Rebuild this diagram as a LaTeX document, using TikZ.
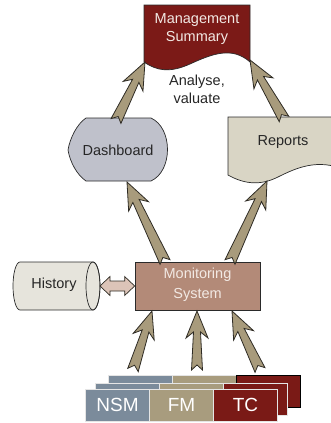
\documentclass[tikz,border=0pt]{standalone}
\usepackage{fontspec}
\setmainfont{Liberation Sans}
\usetikzlibrary{calc}
\definecolor{mgmtred}{HTML}{7B1A17}
\definecolor{dashgray}{HTML}{BFC1CB}
\definecolor{repbeige}{HTML}{D9D5C5}
\definecolor{monrose}{HTML}{B38A78}
\definecolor{montext}{HTML}{F2E9E4}
\definecolor{histfill}{HTML}{E6E4DC}
\definecolor{arrowtan}{HTML}{A89B7C}
\definecolor{arrowline}{HTML}{2E2B24}
\definecolor{dblfill}{HTML}{DCC4B8}
\definecolor{nsmcol}{HTML}{7B8B9B}
\definecolor{fmcol}{HTML}{A89C7E}
\definecolor{tccol}{HTML}{7A1A16}
\definecolor{outline}{HTML}{2A2A2A}
\tikzset{
  shapeline/.style={draw=outline, line width=0.7pt},
  fatarrow/.style={fill=arrowtan, draw=arrowline, line width=0.8pt, line join=miter},
  lbl/.style={font=\fontsize{14.5}{18}\selectfont, align=center, inner sep=0pt, text=black!85},
  srcbox/.style={rectangle, draw=white!80!gray, line width=0.8pt, minimum width=64pt,
    minimum height=32pt, inner sep=0pt, text=white, font=\fontsize{19}{22}\selectfont},
}
\newcommand\fatarrow[2]{%
  \draw[fatarrow] (#2)
    -- ($(#2)!27pt!(#1)!11pt!90:(#1)$)
    -- ($(#2)!21pt!(#1)!3.5pt!90:(#1)$)
    -- ($(#1)!5.5pt!-90:(#2)$)
    -- ($(#1)!5pt!(#2)$)
    -- ($(#1)!5.5pt!90:(#2)$)
    -- ($(#2)!21pt!(#1)!3.5pt!-90:(#1)$)
    -- ($(#2)!27pt!(#1)!11pt!-90:(#1)$)
    -- cycle;}
\begin{document}
\begin{tikzpicture}[x=1pt,y=-1pt]
\useasboundingbox (0,0) rectangle (331,423);
\begin{scope}
\clip (0,0) rectangle (331,423);
% Management Summary
\draw[shapeline, fill=mgmtred] (144,5) -- (250,5) -- (250,62)
  .. controls (232,46) and (212,54) .. (190,64)
  .. controls (170,73) and (157,71) .. (144,62) -- cycle;
\node[lbl, text=montext] (mgmt) at (197,29) {Management\\Summary};
\node[lbl] (analyse) at (197,89) {Analyse,\\valuate};
% Dashboard
\draw[shapeline, fill=dashgray] (86,118) -- (151,118)
  .. controls (173,128) and (173,171) .. (151,181) -- (86,181)
  .. controls (77,175) and (70,162) .. (68,150)
  .. controls (70,138) and (77,124) .. (86,118) -- cycle;
\node[lbl] (dash) at (118,150) {Dashboard};
% Reports
\draw[shapeline, fill=repbeige] (228,117) -- (345,117) -- (345,170)
  .. controls (318,158) and (296,168) .. (278,177)
  .. controls (260,186) and (244,184) .. (228,175) -- cycle;
\node[lbl] (rep) at (283,142) {Reports};
% History
\draw[shapeline, fill=histfill] (20,262) -- (93,262) arc(-90:90:7 and 24)
  -- (20,310) arc(90:270:7 and 24) -- cycle;
\draw[shapeline] (93,286) ellipse (7 and 24);
\node[lbl] (hist) at (54,285) {History};
\coordinate (hist-e) at (100,286);
% Monitoring
\node[shapeline, fill=monrose, rectangle, minimum width=125pt, minimum height=48pt,
  inner sep=0pt] (mon) at (197.5,286) {};
\node[lbl, text=montext, font=\fontsize{14.5}{20}\selectfont] (montxt) at (197.5,285) {Monitoring\\System};
% double arrow
\draw[fill=dblfill, draw=arrowline, line width=0.7pt] (hist-e)
  -- ($(hist-e)+(10,-9.5)$) -- ($(hist-e)+(10,-5)$) -- ($(mon.west)+(-10,-5)$)
  -- ($(mon.west)+(-10,-9.5)$) -- (mon.west) -- ($(mon.west)+(-10,9.5)$)
  -- ($(mon.west)+(-10,5)$) -- ($(hist-e)+(10,5)$) -- ($(hist-e)+(10,9.5)$) -- cycle;
% source stacks: back row
\node[srcbox, fill=nsmcol] (nsmB) at (140,391) {};
\node[srcbox, fill=fmcol] (fmB) at (204,391) {};
\node[srcbox, fill=tccol, draw=black] (tcB) at (268,391) {};
% middle row
\node[srcbox, fill=nsmcol] (nsmM) at (127.5,399) {};
\node[srcbox, fill=fmcol] (fmM) at (191.5,399) {};
\node[srcbox, fill=tccol] (tcM) at (255.5,399) {};
% front row
\node[srcbox, fill=nsmcol] (nsm) at (117.5,405) {NSM};
\node[srcbox, fill=fmcol] (fm) at (181.5,405) {FM};
\node[srcbox, fill=tccol] (tc) at (245.5,405) {TC};
% arrow end points
\coordinate (dash-top) at (116,121);
\coordinate (mgmt-l) at (145,62);
\coordinate (rep-top) at (284,119);
\coordinate (mgmt-r) at (250,60);
\coordinate (mon-tl) at (165,262);
\coordinate (dash-bot) at (127,182);
\coordinate (mon-tr) at (230,262);
\coordinate (rep-bot) at (267,181);
\coordinate (nsm-top) at (133,370);
\coordinate (mon-bl) at (152,311);
\coordinate (fm-top) at (197,370);
\coordinate (mon-bm) at (197,311);
\coordinate (tc-top) at (260,370);
\coordinate (mon-br) at (232,311);
\fatarrow{dash-top}{mgmt-l}
\fatarrow{rep-top}{mgmt-r}
\fatarrow{mon-tl}{dash-bot}
\fatarrow{mon-tr}{rep-bot}
\fatarrow{nsm-top}{mon-bl}
\fatarrow{fm-top}{mon-bm}
\fatarrow{tc-top}{mon-br}
\end{scope}
\end{tikzpicture}
\end{document}
